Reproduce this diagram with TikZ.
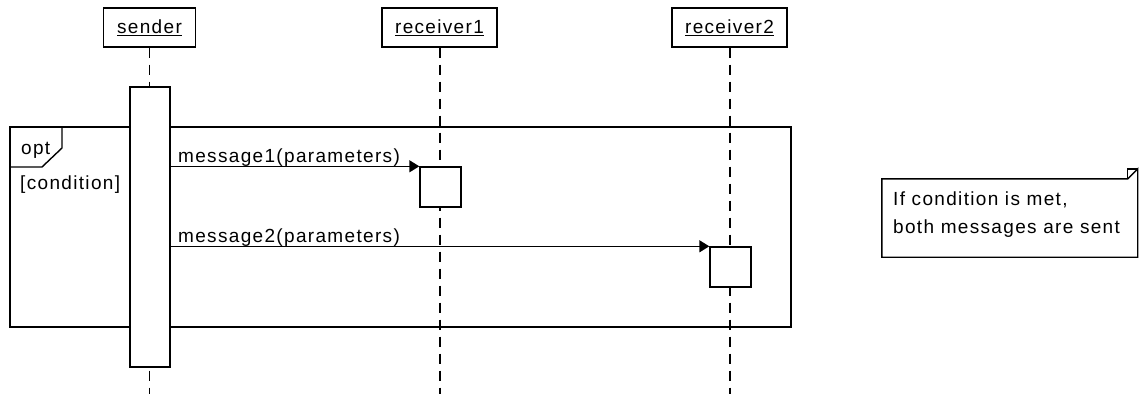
\documentclass[tikz,border=0pt]{standalone}
\usepackage{fontspec}
\setmainfont{Liberation Sans}[LetterSpace=7]
\usetikzlibrary{arrows.meta}
\begin{document}
\begin{tikzpicture}[x=1pt,y=-1pt,
  every node/.style={font=\fontsize{19}{28}\selectfont, inner sep=0pt},
  lw/.style={line width=1.4pt},
  objbox/.style={lw, draw, fill=white, minimum height=39pt},
  actbox/.style={lw, draw, fill=white, minimum width=40pt},
  lifeline/.style={line width=1.3pt, dash pattern=on 10pt off 7pt},
  msg/.style={lw, -{Triangle[length=10pt,width=12pt]}},
  frameline/.style={lw},
  lbl/.style={anchor=base west}
]
\useasboundingbox (0,0) rectangle (1139,394);
% lifeline objects
\node[objbox, minimum width=92pt] (sender) at (149.5,27.5) {\underline{sender}};
\node[objbox, minimum width=115pt] (receiverA) at (439.5,27.5) {\underline{receiver1}};
\node[objbox, minimum width=115pt] (receiverB) at (729.5,27.5) {\underline{receiver2}};
\coordinate (sendEnd) at (149.5,394);
\coordinate (recAEnd) at (440,394);
\coordinate (recBEnd) at (730,394);
\draw[lifeline] (sender.south) -- (sendEnd);
\draw[lifeline] (receiverA.south -| recAEnd) -- (recAEnd);
\draw[lifeline] (receiverB.south -| recBEnd) -- (recBEnd);
% opt frame
\node[frameline, draw, minimum width=781pt, minimum height=200pt] (frame) at (400.5,227) {};
\coordinate (tabA) at (62,127);
\coordinate (tabB) at (62,148);
\coordinate (tabC) at (42,167);
\coordinate (tabD) at (10,167);
\draw[frameline] (tabA) -- (tabB) -- (tabC) -- (tabD);
\node[lbl] (optlbl) at (21,154) {opt};
\node[lbl] (condlbl) at (20,189) {[condition]};
% activations
\node[actbox, minimum height=280pt] (sact) at (150,227) {};
\node[actbox, minimum width=41pt, minimum height=40pt] (rAact) at (440.5,187) {};
\node[actbox, minimum width=41pt, minimum height=40pt] (rBact) at (730.5,267) {};
% messages
\draw[msg] (sact.east |- rAact.north west) -- (rAact.north west);
\node[lbl] (msgA) at (178,162) {message1(parameters)};
\draw[msg] (sact.east |- rBact.north west) -- (rBact.north west);
\node[lbl] (msgB) at (178,242) {message2(parameters)};
% note
\node[minimum width=255.5pt, minimum height=78pt] (note) at (1009.75,218) {};
\draw[lw, fill=white] (note.north west) -- ([xshift=-10pt]note.north east) -- ([yshift=10pt]note.north east) -- (note.south east) -- (note.south west) -- cycle;
\draw[lw] ([xshift=-10pt]note.north east) -- ([xshift=-10pt,yshift=10pt]note.north east) -- ([yshift=10pt]note.north east);
\node[anchor=west, align=left] (notetext) at (893,215) {If condition is met,\\both messages are sent};
\end{tikzpicture}
\end{document}
